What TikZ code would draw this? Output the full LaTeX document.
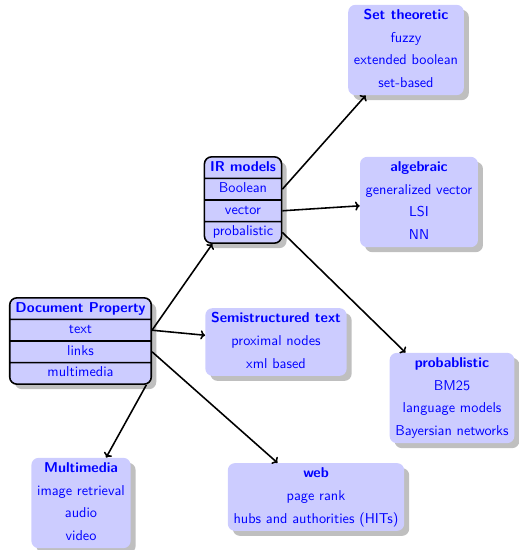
\documentclass[tikz,border=0pt]{standalone}
\usetikzlibrary{shapes.multipart,shadows,arrows.meta}
\begin{document}
\begin{tikzpicture}[x=0.7pt,y=-0.7pt,font=\sffamily,
  box/.style={rectangle split, rectangle split parts=4, rounded corners=5pt,
    fill=blue!20, text=blue,
    drop shadow={shadow xshift=3.5pt, shadow yshift=-3.5pt, fill=black!25, opacity=1},
    inner xsep=4pt, inner ysep=1pt},
  splitbox/.style={box, draw=black, line width=1.1pt},
  plainbox/.style={box, inner ysep=1.7pt},
  link/.style={-{To[length=3.2pt,width=6.4pt]}, line width=1.1pt}]
\useasboundingbox (0,0) rectangle (519,550);

\node[splitbox] (doc) at (80.5,341) {\strut\textbf{Document Property}
  \nodepart{two}\strut text \nodepart{three}\strut links \nodepart{four}\strut multimedia};
\node[splitbox] (ir) at (243,200) {\strut\textbf{IR models}
  \nodepart{two}\strut Boolean \nodepart{three}\strut vector \nodepart{four}\strut probalistic};
\node[plainbox] (set) at (406,50) {\strut\textbf{Set theoretic}
  \nodepart{two}\strut fuzzy \nodepart{three}\strut extended boolean \nodepart{four}\strut set-based};
\node[plainbox] (alg) at (419,202) {\strut\textbf{algebraic}
  \nodepart{two}\strut generalized vector \nodepart{three}\strut LSI \nodepart{four}\strut NN};
\node[plainbox, rectangle split parts=3] (semi) at (276,342) {\strut\textbf{Semistructured text}
  \nodepart{two}\strut proximal nodes \nodepart{three}\strut xml based};
\node[plainbox] (prob) at (452,398) {\strut\textbf{probablistic}
  \nodepart{two}\strut BM25 \nodepart{three}\strut language models \nodepart{four}\strut Bayersian networks};
\node[plainbox] (mm) at (81,503) {\strut\textbf{Multimedia}
  \nodepart{two}\strut image retrieval \nodepart{three}\strut audio \nodepart{four}\strut video};
\node[plainbox, rectangle split parts=3] (web) at (316,497) {\strut\textbf{web}
  \nodepart{two}\strut page rank \nodepart{three}\strut hubs and authorities (HITs)};

\draw[link] (doc.two east) -- (ir);
\draw[link] (doc.two east) -- (semi);
\draw[link] (doc.three east) -- (web);
\draw[link] ([xshift=-4pt]doc.south east) -- (mm);
\draw[link] (ir.two east) -- (set);
\draw[link] (ir.three east) -- (alg);
\draw[link] (ir.four east) -- (prob);
\end{tikzpicture}
\end{document}
